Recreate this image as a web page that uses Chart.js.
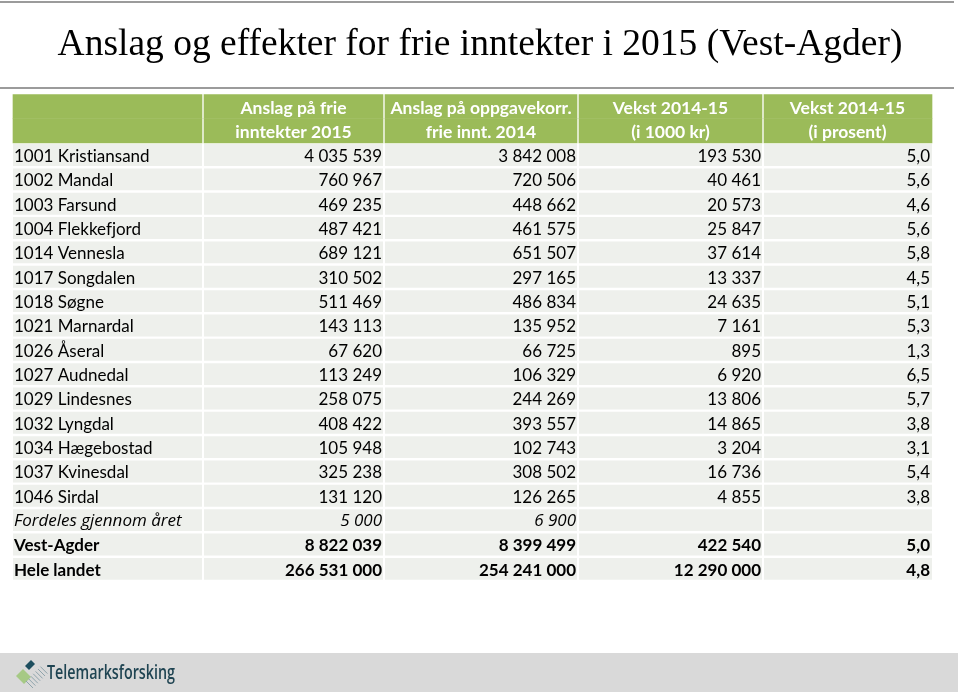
<!DOCTYPE html>
<html lang="no">
<head>
<meta charset="UTF-8">
<title>Anslag og effekter for frie inntekter i 2015 (Vest-Agder)</title>
<script src="https://cdn.jsdelivr.net/npm/chart.js"></script>
<style>
  html, body { margin: 0; padding: 0; background: #fff; }
  #wrap { width: 960px; height: 694px; position: relative; }
</style>
</head>
<body>
<div id="wrap"><canvas id="tabell"></canvas></div>
<script>
// Data (1000 kr)
const kommuner = ['1001 Kristiansand', '1002 Mandal', '1003 Farsund', '1004 Flekkefjord', '1014 Vennesla',
  '1017 Songdalen', '1018 Søgne', '1021 Marnardal', '1026 Åseral', '1027 Audnedal', '1029 Lindesnes',
  '1032 Lyngdal', '1034 Hægebostad', '1037 Kvinesdal', '1046 Sirdal', 'Fordeles gjennom året',
  'Vest-Agder', 'Hele landet'];
const anslag2015 = [4035539, 760967, 469235, 487421, 689121, 310502, 511469, 143113, 67620, 113249,
  258075, 408422, 105948, 325238, 131120, 5000, 8822039, 266531000];
const anslag2014 = [3842008, 720506, 448662, 461575, 651507, 297165, 486834, 135952, 66725, 106329,
  244269, 393557, 102743, 308502, 126265, 6900, 8399499, 254241000];
const vekstKr = [193530, 40461, 20573, 25847, 37614, 13337, 24635, 7161, 895, 6920,
  13806, 14865, 3204, 16736, 4855, null, 422540, 12290000];
const vekstPst = [5.0, 5.6, 4.6, 5.6, 5.8, 4.5, 5.1, 5.3, 1.3, 6.5,
  5.7, 3.8, 3.1, 5.4, 3.8, null, 5.0, 4.8];
const kolonneTitler = [
  ['', ''],
  ['Anslag på frie', 'inntekter 2015'],
  ['Anslag på oppgavekorr.', 'frie innt. 2014'],
  ['Vekst 2014-15', '(i 1000 kr)'],
  ['Vekst 2014-15', '(i prosent)']
];
const kursivRader = ['Fordeles gjennom året'];
const fetRader = ['Vest-Agder', 'Hele landet'];

// layout
const kantX = [13, 203, 384, 578, 763, 932];   // kolonnegrenser i x-aksens enheter
const HODE = 2;                                  // overskriften bruker to rader
const GRONN = '#9BBB59', GRA = '#EEF0EC';
const FONT = 'Lato, "Open Sans", sans-serif';

const tall = v => v == null ? '' : String(v).replace(/\B(?=(\d{3})+(?!\d))/g, ' ');
const prosent = v => v == null ? '' : v.toFixed(1).replace('.', ',');
const kolonner = [kommuner, anslag2015.map(tall), anslag2014.map(tall), vekstKr.map(tall), vekstPst.map(prosent)];

const etiketter = ['hode1', 'hode2'].concat(kommuner);
const celle = j => [kantX[j] + (j > 0 ? 1 : 0), kantX[j + 1] - (j < 4 ? 1 : 0)];

const datasets = [];
for (let j = 0; j < 5; j++) {
  datasets.push({
    data: etiketter.map((_, i) => i < HODE ? celle(j) : null),
    backgroundColor: GRONN, barPercentage: 1.0, categoryPercentage: 1, grouped: false
  });
  datasets.push({
    data: etiketter.map((_, i) => i >= HODE ? celle(j) : null),
    backgroundColor: GRA, barPercentage: 0.9, categoryPercentage: 1, grouped: false
  });
}

const tekstPlugin = {
  id: 'tekst',
  beforeDraw(chart) {
    const { ctx, width } = chart;
    ctx.save();
    ctx.fillStyle = '#fff';
    ctx.fillRect(0, 0, width, chart.height);
    ctx.strokeStyle = '#9b9b9b';
    ctx.lineWidth = 2;
    ctx.beginPath();
    ctx.moveTo(0, 2); ctx.lineTo(954, 2);
    ctx.moveTo(0, 88); ctx.lineTo(954, 88);
    ctx.stroke();

    // bunnfelt med logo
    ctx.fillStyle = '#D9D9D9';
    ctx.fillRect(0, 653, 958, 39);
    ctx.fillStyle = '#A6C985';
    ctx.beginPath();
    ctx.moveTo(16, 676); ctx.lineTo(23, 669); ctx.lineTo(31, 677); ctx.lineTo(24, 684); ctx.closePath();
    ctx.fill();
    ctx.strokeStyle = '#8FA4AC';
    ctx.lineWidth = 1;
    for (let k = 0; k < 7; k++) {
      ctx.beginPath();
      ctx.moveTo(26 + k * 2.4, 681 - k * 2.4);
      ctx.lineTo(33 + k * 2.4, 688 - k * 2.4);
      ctx.stroke();
    }
    ctx.fillStyle = '#1D4E5E';
    ctx.beginPath();
    ctx.moveTo(25, 666); ctx.lineTo(31, 660); ctx.lineTo(35, 664); ctx.lineTo(29, 670); ctx.closePath();
    ctx.fill();
    ctx.fillStyle = '#1F4452';
    ctx.font = '600 19px "Open Sans", sans-serif';
    ctx.textBaseline = 'alphabetic';
    const logo = 'Telemarksforsking';
    const sx = 128 / ctx.measureText(logo).width;
    ctx.translate(47, 679);
    ctx.scale(sx, 1);
    ctx.fillText(logo, 0, 0);
    ctx.restore();
  },
  afterDatasetsDraw(chart) {
    const { ctx, scales: { x, y } } = chart;
    ctx.save();
    ctx.textBaseline = 'middle';
    ctx.textRendering = 'optimizeSpeed';

    // overskrift
    const midt = (y.getPixelForValue(0) + y.getPixelForValue(1)) / 2;
    ctx.fillStyle = '#fff';
    ctx.font = 'bold 17.5px ' + FONT;
    ctx.textAlign = 'center';
    kolonneTitler.forEach((t, j) => {
      const cx = (x.getPixelForValue(kantX[j]) + x.getPixelForValue(kantX[j + 1])) / 2;
      ctx.fillText(t[0], cx, midt - 10);
      ctx.fillText(t[1], cx, midt + 14);
    });

    // rader
    ctx.fillStyle = '#000';
    kommuner.forEach((navn, i) => {
      const cy = y.getPixelForValue(i + HODE) + 1.5;
      if (kursivRader.includes(navn)) ctx.font = 'italic 17px "Open Sans", sans-serif';
      else if (fetRader.includes(navn)) ctx.font = 'bold 17px ' + FONT;
      else ctx.font = '17px ' + FONT;
      kolonner.forEach((kol, j) => {
        if (j === 0) {
          ctx.textAlign = 'left';
          ctx.fillText(kol[i], x.getPixelForValue(kantX[0]) + 1, cy);
        } else {
          ctx.textAlign = 'right';
          ctx.fillText(kol[i], x.getPixelForValue(kantX[j + 1]) - 2, cy);
        }
      });
    });
    ctx.restore();
  }
};

new Chart(document.getElementById('tabell'), {
  type: 'bar',
  data: { labels: etiketter, datasets },
  options: {
    indexAxis: 'y',
    responsive: true,
    maintainAspectRatio: false,
    animation: false,
    layout: { padding: { left: 0, right: 0, top: 0, bottom: 113 } },
    scales: {
      x: { type: 'linear', min: 0, max: 960, display: false },
      y: { type: 'category', display: false }
    },
    plugins: {
      legend: { display: false },
      tooltip: { enabled: false },
      title: {
        display: true,
        text: 'Anslag og effekter for frie inntekter i 2015 (Vest-Agder)',
        color: '#000',
        font: { family: '"Liberation Serif", serif', size: 37.5, weight: 'normal', lineHeight: 1.2 },
        padding: { top: 22.5, bottom: 26.7 }
      }
    }
  },
  plugins: [tekstPlugin]
});
</script>
</body>
</html>
